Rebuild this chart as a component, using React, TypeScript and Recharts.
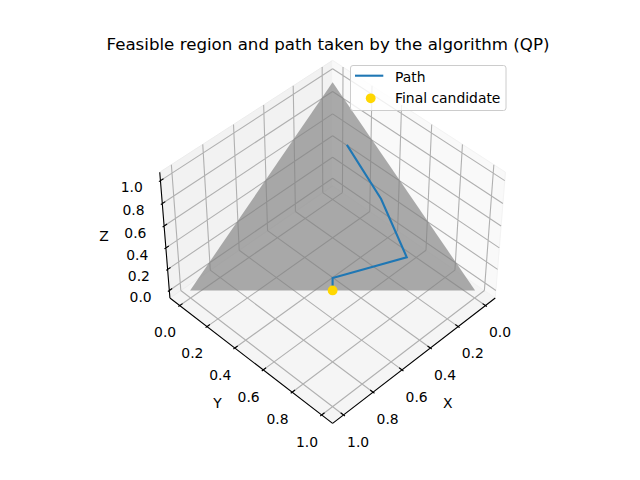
import React from 'react'
import { ComposedChart, XAxis, YAxis, Line, Area, Scatter } from 'recharts'

const FONT = '"DejaVu Sans", sans-serif'

// values
const axisTicks = [0, 0.2, 0.4, 0.6, 0.8, 1.0]
const tickLabels = ['0.0', '0.2', '0.4', '0.6', '0.8', '1.0']
const axisNames = ['X', 'Y', 'Z']

// feasible region: x + y + z = 1, all >= 0
const regionX = [1, 0, 0]
const regionY = [0, 1, 0]
const regionZ = [0, 0, 1]

// iterates of the solver
const pathX = [0.1, 0.11, 0.16, 0.47, 0.5]
const pathY = [0.2, 0.45, 0.68, 0.47, 0.5]
const pathZ = [0.7, 0.44, 0.16, 0.06, 0.0]

const finalX = [0.5]
const finalY = [0.5]
const finalZ = [0.0]

const legendNames = ['Path', 'Final candidate']

const PATH_COLOR = '#1f77b4'
const FINAL_COLOR = '#ffd700'

// 3d view (matplotlib style: elev 45, azim 45, box aspect 4:4:3, perspective)
const ELEV = 45
const AZIM = 45
const EYE_DIST = 10
const LO = -0.05 - 1.1 / 48
const HI = 1.05 + 1.1 / 48

// where the projected origin sits in the 640x480 frame
const CX = 332.6
const CY = 237.0
const PX_PER_UNIT = 2074

const rad = Math.PI / 180
const aspectNorm = Math.hypot(4, 4, 3)
const box = [4, 4, 3].map((a) => (a * 1.8294640721620434) / aspectNorm)
const boxCenter = box.map((a) => a / 2)
const wv = [
  Math.cos(ELEV * rad) * Math.cos(AZIM * rad),
  Math.cos(ELEV * rad) * Math.sin(AZIM * rad),
  Math.sin(ELEV * rad),
]
const uLen = Math.hypot(wv[0], wv[1])
const uv = [-wv[1] / uLen, wv[0] / uLen, 0]
const vv = [
  wv[1] * uv[2] - wv[2] * uv[1],
  wv[2] * uv[0] - wv[0] * uv[2],
  wv[0] * uv[1] - wv[1] * uv[0],
]

function project(x: number, y: number, z: number) {
  const p = [x, y, z].map((d, i) => ((d - LO) / (HI - LO)) * box[i] - boxCenter[i])
  const dot = (a: number[]) => a[0] * p[0] + a[1] * p[1] + a[2] * p[2]
  const depth = EYE_DIST - dot(wv)
  return { x: dot(uv) / depth, y: dot(vv) / depth }
}

const xDomain = [-CX / PX_PER_UNIT, (640 - CX) / PX_PER_UNIT]
const yDomain = [(CY - 480) / PX_PER_UNIT, CY / PX_PER_UNIT]

type P3 = [number, number, number]

// line pieces with a null row between them so one <Line> can hold many segments
function segments(list: [P3, P3][]) {
  const rows: any[] = []
  list.forEach(([a, b]) => {
    const p = project(...a)
    const q = project(...b)
    rows.push({ x: p.x, y: p.y }, { x: q.x, y: q.y }, { x: q.x, y: null })
  })
  return rows
}

// convex polygon -> ranged area rows [low, high] at each vertex x
function polygon(pts: P3[]) {
  const poly = pts.map((p) => project(...p))
  const xs = Array.from(new Set(poly.map((p) => p.x))).sort((a, b) => a - b)
  return xs.map((x) => {
    const ys: number[] = []
    poly.forEach((p, i) => {
      const q = poly[(i + 1) % poly.length]
      const lo = Math.min(p.x, q.x)
      const hi = Math.max(p.x, q.x)
      if (x < lo - 1e-12 || x > hi + 1e-12) return
      if (Math.abs(q.x - p.x) < 1e-12) ys.push(p.y, q.y)
      else ys.push(p.y + ((q.y - p.y) * (x - p.x)) / (q.x - p.x))
    })
    return { x, y: [Math.min(...ys), Math.max(...ys)] }
  })
}

const floorPane = polygon([[LO, LO, LO], [HI, LO, LO], [HI, HI, LO], [LO, HI, LO]])
const leftPane = polygon([[LO, LO, LO], [HI, LO, LO], [HI, LO, HI], [LO, LO, HI]])
const rightPane = polygon([[LO, LO, LO], [LO, HI, LO], [LO, HI, HI], [LO, LO, HI]])

const gridRows = segments(
  axisTicks.flatMap((t) => [
    [[t, LO, LO], [t, HI, LO]],
    [[LO, t, LO], [HI, t, LO]],
    [[t, LO, LO], [t, LO, HI]],
    [[LO, LO, t], [HI, LO, t]],
    [[LO, t, LO], [LO, t, HI]],
    [[LO, LO, t], [LO, HI, t]],
  ] as [P3, P3][])
)

const tickDelta = (HI - LO) / 12
const tickIn = 0.2 * tickDelta
const tickOut = 0.1 * tickDelta

const axisRows = segments([
  [[LO, HI, LO], [HI, HI, LO]],
  [[HI, LO, LO], [HI, HI, LO]],
  [[HI, LO, LO], [HI, LO, HI]],
  ...axisTicks.flatMap((t) => [
    [[t, HI - tickIn, LO], [t, HI + tickOut, LO]],
    [[HI - tickIn, t, LO], [HI + tickOut, t, LO]],
    [[HI - tickIn, LO, t], [HI + tickOut, LO, t]],
  ]),
] as [P3, P3][])

const labelRows = [
  ...axisTicks.map((t, i) => ({ ...project(t, HI, LO), label: tickLabels[i], dx: 14.6, dy: 26.8 })),
  ...axisTicks.map((t, i) => ({ ...project(HI, t, LO), label: tickLabels[i], dx: -14.6, dy: 26.8 })),
  ...axisTicks.map((t, i) => ({ ...project(HI, LO, t), label: tickLabels[i], dx: -28.7, dy: 6.8 })),
  { ...project(0.5, HI, LO), label: axisNames[0], dx: 31.5, dy: 44.4 },
  { ...project(HI, 0.5, LO), label: axisNames[1], dx: -31.5, dy: 44.4 },
  { ...project(HI, LO, 0.5), label: axisNames[2], dx: -61, dy: -1 },
]

const regionRows = polygon(regionX.map((x, i) => [x, regionY[i], regionZ[i]] as P3))
const pathRows = pathX.map((x, i) => project(x, pathY[i], pathZ[i]))
const finalRows = finalX.map((x, i) => project(x, finalY[i], finalZ[i]))

const LabelShape = (props: any) => {
  const { cx, cy, payload } = props
  if (cx == null || cy == null) return null
  return (
    <text
      x={cx + payload.dx}
      y={cy + payload.dy}
      textAnchor="middle"
      dominantBaseline="central"
      fontSize={13.9}
      fontFamily={FONT}
      fill="#000"
    >
      {payload.label}
    </text>
  )
}

const FinalDot = (props: any) => {
  const { cx, cy } = props
  if (cx == null || cy == null) return null
  return <circle cx={cx} cy={cy} r={4.9} fill={FINAL_COLOR} />
}

export default function App() {
  return (
    <div style={{ position: 'absolute', left: 0, top: 0, width: 640, height: 480, background: '#fff' }}>
      <ComposedChart width={640} height={480} margin={{ top: 0, right: 0, bottom: 0, left: 0 }}>
        <XAxis type="number" dataKey="x" domain={xDomain} hide allowDataOverflow />
        <YAxis type="number" dataKey="y" domain={yDomain} hide allowDataOverflow />

        <Area data={floorPane} dataKey="y" type="linear" fill="#f5f5f5" fillOpacity={1} stroke="#f0f0f0" strokeWidth={1} isAnimationActive={false} zIndex={10} />
        <Area data={leftPane} dataKey="y" type="linear" fill="#f2f2f2" fillOpacity={1} stroke="#ececec" strokeWidth={1} isAnimationActive={false} zIndex={11} />
        <Area data={rightPane} dataKey="y" type="linear" fill="#f9f9f9" fillOpacity={1} stroke="#f3f3f3" strokeWidth={1} isAnimationActive={false} zIndex={12} />

        <Line data={gridRows} dataKey="y" type="linear" stroke="#b0b0b0" strokeWidth={1.1} dot={false} activeDot={false} connectNulls={false} isAnimationActive={false} zIndex={20} />
        <Line data={axisRows} dataKey="y" type="linear" stroke="#000" strokeWidth={1.1} dot={false} activeDot={false} connectNulls={false} isAnimationActive={false} zIndex={30} />
        <Scatter data={labelRows} dataKey="y" shape={<LabelShape />} isAnimationActive={false} zIndex={40} />

        <Area data={regionRows} dataKey="y" type="linear" fill="#808080" fillOpacity={0.66} stroke="none" isAnimationActive={false} zIndex={50} />
        <Line data={pathRows} dataKey="y" type="linear" stroke={PATH_COLOR} strokeWidth={2.1} dot={false} activeDot={false} isAnimationActive={false} zIndex={60} />
        <Scatter data={finalRows} dataKey="y" shape={<FinalDot />} isAnimationActive={false} zIndex={70} />
      </ComposedChart>

      <svg width={640} height={480} style={{ position: 'absolute', left: 0, top: 0, pointerEvents: 'none' }}>
        <text x={328} y={50} textAnchor="middle" fontSize={16.67} fontFamily={FONT} fill="#000">
          Feasible region and path taken by the algorithm (QP)
        </text>
        <rect x={350.5} y={65.5} width={155.5} height={45} rx={2.5} fill="#fff" fillOpacity={0.8} stroke="#cccccc" strokeWidth={1} />
        <line x1={355} y1={75.7} x2={383.3} y2={75.7} stroke={PATH_COLOR} strokeWidth={2.1} />
        <text x={395} y={81.5} fontSize={13.9} fontFamily={FONT} fill="#000">{legendNames[0]}</text>
        <circle cx={370.7} cy={98.3} r={4.9} fill={FINAL_COLOR} />
        <text x={395} y={102.6} fontSize={13.9} fontFamily={FONT} fill="#000">{legendNames[1]}</text>
      </svg>
    </div>
  )
}
